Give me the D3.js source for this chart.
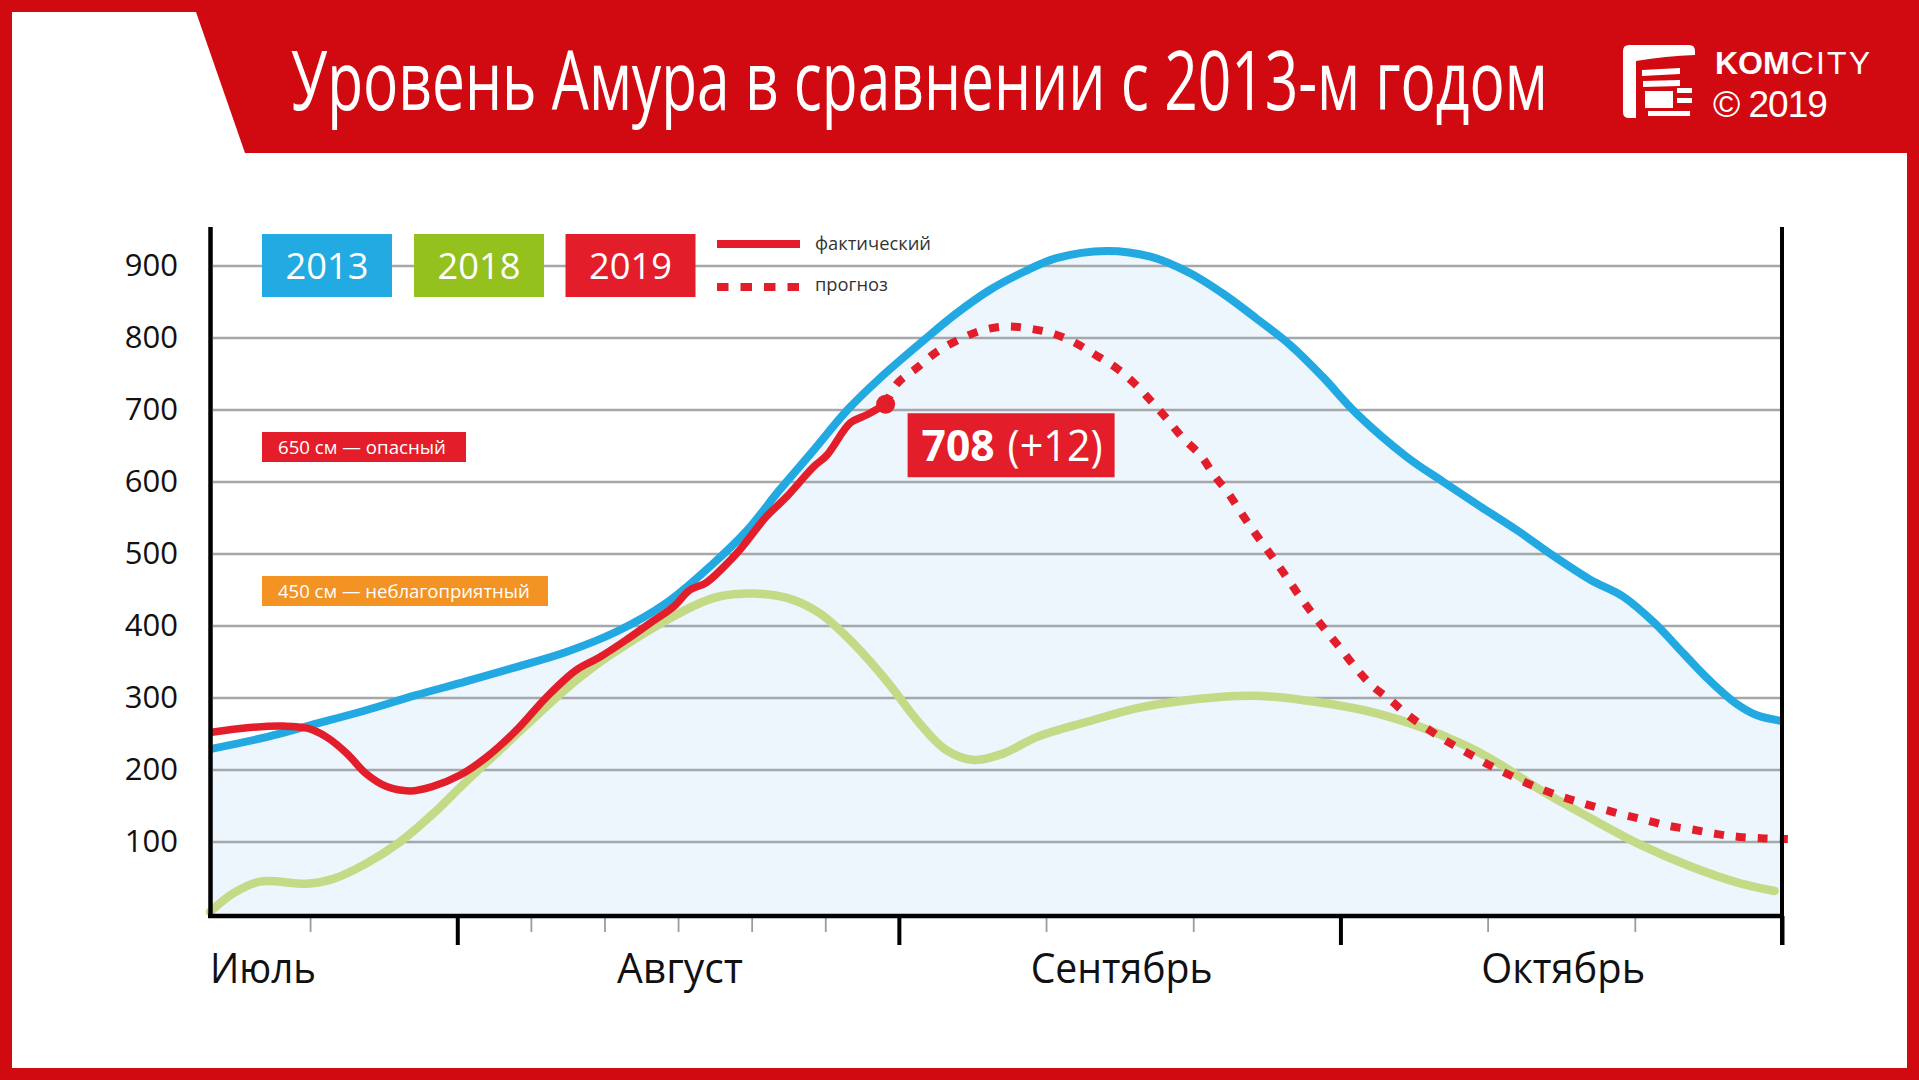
<!DOCTYPE html>
<html lang="ru">
<head>
<meta charset="utf-8">
<title>Уровень Амура в сравнении с 2013-м годом</title>
<script src="https://cdn.jsdelivr.net/npm/d3@7/dist/d3.min.js"></script>
<style>
html,body{margin:0;padding:0;background:#fff;overflow:hidden;}
body{position:relative;width:1919px;height:1080px;}
svg{display:block;}
text{font-family:"Open Sans","Noto Sans",sans-serif;}
.brand{position:absolute;color:#fff;white-space:nowrap;font-family:"Liberation Sans",Arial,sans-serif;margin:0;padding:0;}
</style>
</head>
<body>
<svg id="chart" width="1919" height="1080"></svg>
<script>
// ---------------- DATA ----------------
const titleText = "Уровень Амура в сравнении с 2013-м годом";
const brandBold = "KOM";
const brandLight = "CITY";
const brandYear = "© 2019";

// y ticks (cm)
const yTickValues = [100, 200, 300, 400, 500, 600, 700, 800, 900];

// x positions are "season days": day 30 = 1 Aug, 60 = 1 Sep, 90 = 1 Oct, 120 = 1 Nov
const monthNames = ["Июль", "Август", "Сентябрь", "Октябрь"];
const monthLabelDays = [13.2, 45, 75, 105];
const majorTickDays = [30, 60, 90, 120];
const minorTickDays = [20, 35, 40, 45, 50, 55, 70, 80, 100, 110];

const legendYears = ["2013", "2018", "2019"];
const legendLineLabels = ["фактический", "прогноз"];

const thresholdValues = [650, 450];
const thresholdLabels = ["650 см — опасный", "450 см — неблагоприятный"];

// 2013
const days2013 = [13.2, 17.1, 20.0, 23.8, 27.2, 30.6, 34.0, 37.4, 40.8, 44.2, 47.4, 49.7, 51.9, 54.2, 56.5, 58.7,
  61.7, 63.9, 66.2, 68.5, 70.7, 74.1, 77.1, 79.8, 82.0, 84.3, 86.6, 88.8, 91.1, 94.5, 97.0, 99.5, 102.0,
  104.5, 107.0, 109.2, 111.3, 113.3, 115.1, 116.9, 118.3, 120.0];
const level2013 = [229, 246, 262, 283, 304, 323, 343, 364, 392, 432, 487, 533, 589, 644, 700, 744,
  797, 834, 867, 892, 911, 921, 913, 890, 862, 827, 790, 746, 695, 635, 600, 566, 533,
  497, 464, 441, 405, 362, 324, 292, 276, 268];

// 2018
const days2018 = [13.2, 14.8, 16.6, 19.8, 21.6, 23.8, 26.1, 28.4, 30.6, 32.9, 35.2, 37.4, 39.7, 42.0, 44.2,
  46.5, 47.8, 50.1, 52.4, 54.6, 56.9, 59.2, 61.4, 63.2, 65.1, 67.1, 69.4, 72.8, 76.2, 79.6, 84.1, 87.5,
  91.6, 95.0, 98.4, 100.6, 103.6, 107.0, 110.4, 113.8, 117.1, 119.5];
const level2018 = [3, 29, 45, 42, 49, 70, 100, 140, 184, 228, 272, 313, 350, 381, 408,
  432, 441, 445, 439, 418, 376, 323, 265, 228, 214, 223, 246, 267, 286, 297, 303, 297,
  283, 263, 235, 211, 172, 133, 96, 66, 43, 32];

// 2019 actual
const days2019 = [13.2, 15.9, 18.2, 19.8, 21.1, 22.5, 23.8, 25.2, 26.8, 28.3, 30.2, 32.0, 34.0, 36.1, 38.1,
  39.7, 41.5, 43.1, 44.7, 45.8, 46.9, 48.1, 49.2, 51.0, 52.4, 54.2, 55.1, 56.7, 57.8, 59.1];
const level2019 = [252, 259, 261, 258, 246, 223, 195, 177, 171, 177, 193, 218, 255, 302, 339,
  357, 381, 404, 427, 450, 460, 482, 506, 552, 580, 621, 637, 682, 693, 708];

// 2019 forecast
const daysForecast = [59.1, 59.9, 61.2, 62.6, 64.2, 65.7, 67.3, 68.9, 70.5, 72.0, 73.4, 74.8, 76.0, 77.2, 78.2,
  79.3, 80.5, 81.4, 82.4, 83.3, 84.2, 85.2, 86.1, 87.0, 88.0, 89.0, 90.0, 91.0, 92.1, 93.4, 94.6, 96.0,
  97.3, 98.7, 100.1, 101.6, 103.1, 104.6, 106.1, 107.6, 109.2, 110.8, 112.4, 114.0, 115.6, 117.1, 118.8, 120.4];
const levelForecast = [708, 737, 758, 781, 799, 811, 816, 813, 806, 793, 776, 758, 737, 711, 688,
  661, 637, 610, 584, 556, 529, 501, 475, 448, 420, 394, 369, 343, 318, 297, 276, 256,
  239, 223, 207, 192, 178, 166, 156, 147, 138, 130, 122, 117, 111, 107, 105, 104];

const currentValue = 708;
const currentDelta = "+12";

// ---------------- STYLE ----------------
const RED_HEADER = "#d10a11";
const C2013 = "#22a9e1", C2013_BOX = "#22abe2";
const C2018 = "#c5da86", C2018_BOX = "#95c11f";
const C2019 = "#e31e2a";
const ORANGE = "#f39323";
const FILL = "#edf5fd";
const GRID = "#a5a8ab";

// squeeze a text horizontally to a target width with a real transform
function fit(sel, width) {
  sel.each(function (d, i) {
    const node = this;
    const w = typeof width === "function" ? width(d, i) : width;
    const t = d3.select(node);
    const tx = +t.attr("x") || 0, ty = +t.attr("y") || 0;
    const natural = node.getComputedTextLength();
    const s = natural > 0 ? w / natural : 1;
    t.attr("x", 0).attr("y", 0)
      .attr("transform", `translate(${tx},${ty}) scale(${s},1)`);
  });
  return sel;
}

// ---------------- DRAW ----------------
const svg = d3.select("#chart");

// frame + header
svg.append("rect").attr("width", 1919).attr("height", 1080).attr("fill", RED_HEADER);
svg.append("rect").attr("x", 12).attr("y", 12).attr("width", 1895).attr("height", 1056).attr("fill", "#fff");
svg.append("path").attr("d", "M196,12H1907V153H245Z").attr("fill", RED_HEADER);

fit(svg.append("text").attr("x", 291).attr("y", 110).attr("font-size", 83).attr("fill", "#fff")
  .text(titleText), 1257);

// logo
const logo = svg.append("g").attr("fill", "#fff");
logo.append("path").attr("d", "M1629,45H1689Q1695,45 1695,51V55Q1666,56 1636,61V118H1629Q1623,118 1623,112V51Q1623,45 1629,45Z");
logo.append("path").attr("d", "M1642,70L1680,68V74L1642,76Z");
logo.append("path").attr("d", "M1643,81L1680,80V86L1643,87Z");
logo.append("rect").attr("x", 1645).attr("y", 91).attr("width", 28).attr("height", 17);
logo.append("rect").attr("x", 1677).attr("y", 88).attr("width", 15).attr("height", 5);
logo.append("rect").attr("x", 1677).attr("y", 98).attr("width", 15).attr("height", 5);
logo.append("rect").attr("x", 1648).attr("y", 111).attr("width", 42).attr("height", 5);

// brand lines (HTML text laid over the header)
const body = d3.select("body");
const b1 = body.append("div").attr("class", "brand")
  .style("left", "1715px").style("top", "43.4px").style("font-size", "32px").style("line-height", "40px");
b1.append("span").style("font-weight", "700").text(brandBold);
b1.append("span").style("letter-spacing", "2.2px").style("margin-left", "1px").text(brandLight);
body.append("div").attr("class", "brand")
  .style("left", "1713px").style("top", "85.7px").style("font-size", "37px").style("line-height", "38px")
  .style("letter-spacing", "-1px").text(brandYear);

// scales
const x = d3.scaleLinear().domain([13.2, 120]).range([210, 1782]);
const y = d3.scaleLinear().domain([0, 900]).range([914, 266]);
const curve = d3.curveCatmullRom.alpha(0.5);
const zip = (a, b) => a.map((d, i) => [d, b[i]]);

const s2013 = zip(days2013, level2013);
const s2018 = zip(days2018, level2018);
const s2019 = zip(days2019, level2019);
const sFc = zip(daysForecast, levelForecast);

// area under 2013
svg.append("path").datum(s2013)
  .attr("d", d3.area().x(d => x(d[0])).y0(y(0)).y1(d => y(d[1])).curve(curve))
  .attr("fill", FILL);

// gridlines
svg.append("g").selectAll("line").data(yTickValues).join("line")
  .attr("x1", 213).attr("x2", x(120)).attr("y1", d => y(d)).attr("y2", d => y(d))
  .attr("stroke", GRID).attr("stroke-width", 2.4);

// y axis labels
const yAxis = svg.append("g").attr("transform", "translate(210,0)")
  .call(d3.axisLeft(y).tickValues(yTickValues).tickSize(0).tickPadding(32));
yAxis.select(".domain").remove();
yAxis.attr("font-family", null).attr("font-size", null);
yAxis.selectAll("text").attr("font-size", 31).attr("fill", "#111").attr("font-family", "Open Sans");

// x axis ticks
const xMinor = svg.append("g").attr("transform", "translate(0,916)")
  .call(d3.axisBottom(x).tickValues(minorTickDays).tickSize(16).tickFormat(""));
xMinor.select(".domain").remove();
xMinor.selectAll("line").attr("stroke", "#9c9c9c").attr("stroke-width", 1.8);

const xMajor = svg.append("g").attr("transform", "translate(0,916)")
  .call(d3.axisBottom(x).tickValues(majorTickDays).tickSize(29).tickFormat(""));
xMajor.select(".domain").remove();
xMajor.selectAll("line").attr("stroke", "#000").attr("stroke-width", 4);

// month labels
const monthWidths = [106, 126, 182, 164];
fit(svg.append("g").selectAll("text").data(monthNames).join("text")
  .attr("x", (d, i) => i === 0 ? x(monthLabelDays[i]) : x(monthLabelDays[i]) - monthWidths[i] / 2 + 2)
  .attr("y", 983).attr("font-size", 42).attr("fill", "#111")
  .text(d => d), (d, i) => monthWidths[i]);

// legend year boxes
const boxColors = [C2013_BOX, C2018_BOX, C2019];
const boxX = [262, 414, 565.5];
const lg = svg.append("g").selectAll("g").data(legendYears).join("g")
  .attr("transform", (d, i) => `translate(${boxX[i]},234)`);
lg.append("rect").attr("width", 130).attr("height", 63).attr("fill", (d, i) => boxColors[i]);
fit(lg.append("text").attr("x", 65).attr("y", 45).attr("text-anchor", "middle").attr("font-size", 36)
  .attr("fill", "#fff").text(d => d), 83);

// legend line samples
svg.append("line").attr("x1", 717).attr("x2", 800).attr("y1", 244).attr("y2", 244)
  .attr("stroke", C2019).attr("stroke-width", 8);
svg.append("line").attr("x1", 717).attr("x2", 800).attr("y1", 287).attr("y2", 287)
  .attr("stroke", C2019).attr("stroke-width", 8).attr("stroke-dasharray", "11.5,12");
fit(svg.append("text").attr("x", 815).attr("y", 250).attr("font-size", 19).attr("fill", "#333")
  .text(legendLineLabels[0]), 116);
fit(svg.append("text").attr("x", 815).attr("y", 291).attr("font-size", 19).attr("fill", "#333")
  .text(legendLineLabels[1]), 73);

// threshold labels
const thColors = [C2019, ORANGE];
const thWidths = [204, 286];
const thTextW = [168, 252];
const th = svg.append("g").selectAll("g").data(thresholdValues).join("g")
  .attr("transform", d => `translate(262,${y(d) - 14})`);
th.append("rect").attr("width", (d, i) => thWidths[i]).attr("height", 30).attr("fill", (d, i) => thColors[i]);
fit(th.append("text").attr("x", 16).attr("y", 22).attr("font-size", 19).attr("fill", "#fff")
  .text((d, i) => thresholdLabels[i]), (d, i) => thTextW[i]);

// series
const line = d3.line().x(d => x(d[0])).y(d => y(d[1])).curve(curve);
svg.append("path").datum(s2018).attr("d", line).attr("fill", "none")
  .attr("stroke", C2018).attr("stroke-width", 8.5).attr("stroke-linecap", "round").attr("stroke-linejoin", "round");
svg.append("path").datum(s2013).attr("d", line).attr("fill", "none")
  .attr("stroke", C2013).attr("stroke-width", 8).attr("stroke-linejoin", "round");
svg.append("path").datum(sFc).attr("d", line).attr("fill", "none")
  .attr("stroke", C2019).attr("stroke-width", 8).attr("stroke-dasharray", "10,12");
svg.append("path").datum(s2019).attr("d", line).attr("fill", "none")
  .attr("stroke", C2019).attr("stroke-width", 7.5).attr("stroke-linejoin", "round");

// axes lines
svg.append("line").attr("x1", 210.5).attr("x2", 210.5).attr("y1", 227).attr("y2", 918)
  .attr("stroke", "#000").attr("stroke-width", 4.5);
svg.append("line").attr("x1", x(120)).attr("x2", x(120)).attr("y1", 227).attr("y2", 945)
  .attr("stroke", "#000").attr("stroke-width", 4);
svg.append("line").attr("x1", 208).attr("x2", x(120) + 2).attr("y1", 916).attr("y2", 916)
  .attr("stroke", "#000").attr("stroke-width", 4.5);

// current point + annotation
const last = s2019[s2019.length - 1];
const px = x(last[0]), py = y(last[1]);
svg.append("circle").attr("cx", px).attr("cy", py).attr("r", 9.5).attr("fill", C2019);
const ann = svg.append("g").attr("transform", `translate(${px + 22},${py + 9})`);
ann.append("rect").attr("width", 207).attr("height", 64).attr("fill", C2019);
fit(ann.append("text").attr("x", 14).attr("y", 48).attr("font-size", 43).attr("font-weight", 700)
  .attr("fill", "#fff").text(currentValue), 73);
fit(ann.append("text").attr("x", 100).attr("y", 48).attr("font-size", 43).attr("fill", "#fff")
  .text(`(${currentDelta})`), 95);
</script>
</body>
</html>
